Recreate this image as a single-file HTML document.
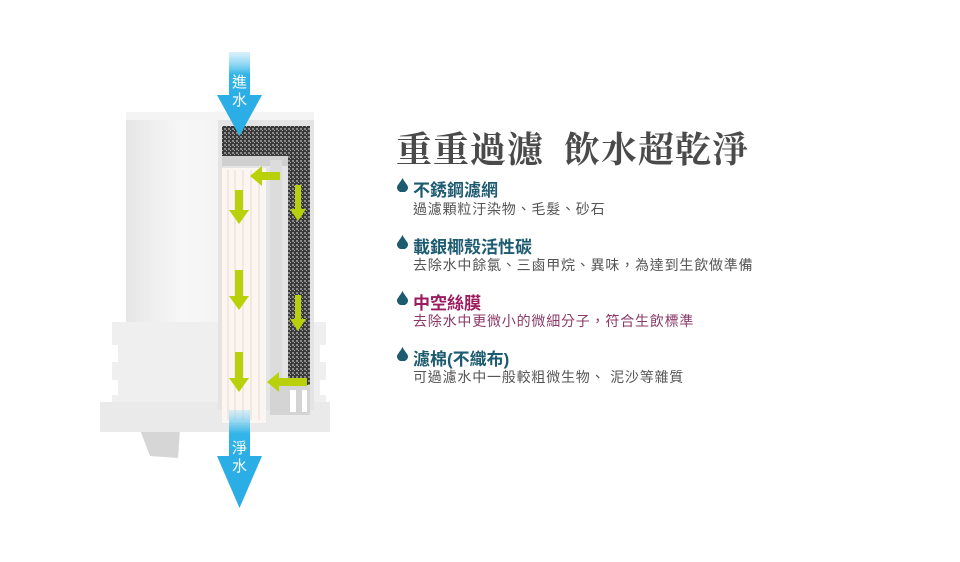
<!DOCTYPE html>
<html><head><meta charset="utf-8"><style>
body{margin:0;width:960px;height:562px;background:#fff;position:relative;overflow:hidden;font-family:"Liberation Sans","Noto Sans CJK TC",sans-serif}
.t{position:absolute;white-space:nowrap}
.title{left:396px;top:122px;font-size:36px;font-weight:bold;color:#4a4a4a;font-family:"Liberation Serif","Noto Serif CJK SC",serif;letter-spacing:1px}
.h{font-size:17px;font-weight:bold;color:#1d5b70;left:413px}
.d{font-size:14px;color:#555;left:413px;letter-spacing:.8px}
.drop{position:absolute;left:397px;width:11px;height:14px}
</style></head><body>
<svg width="960" height="562" style="position:absolute;left:0;top:0">
<defs>
<linearGradient id="cyl" x1="0" x2="1"><stop offset="0" stop-color="#e6e6e6"/><stop offset=".3" stop-color="#f7f7f7"/><stop offset="1" stop-color="#ececec"/></linearGradient>
<pattern id="carb" width="4" height="4" patternUnits="userSpaceOnUse"><rect width="4" height="4" fill="#3a3a3a"/><rect width="2" height="2" fill="#8a8a8a"/><rect x="2" y="2" width="1" height="1" fill="#aaa"/></pattern>
<linearGradient id="blue" x1="0" y1="0" x2="0" y2="1"><stop offset="0" stop-color="#9fdcf5" stop-opacity=".4"/><stop offset=".5" stop-color="#33b5e8"/><stop offset="1" stop-color="#2aaee5"/></linearGradient>
</defs>
<path d="M140 430 L180 430 L178 458 L150 456 Z" fill="#d6d6d6"/>
<rect x="100" y="402" width="230" height="30" fill="#eaeaea"/>
<path d="M112 322 H326 V345 H320 V362 H326 V380 H320 V395 H326 V402 H112 V395 H118 V380 H112 V362 H118 V345 H112Z" fill="#efefef"/>
<rect x="126" y="112" width="188" height="210" fill="url(#cyl)"/>
<rect x="126" y="112" width="188" height="8" fill="#f4f4f4"/>
<rect x="218" y="120" width="96" height="290" fill="#e4e4e4"/>
<rect x="222" y="126" width="88" height="30" fill="url(#carb)"/>
<rect x="288" y="150" width="22" height="235" fill="url(#carb)"/>
<rect x="222" y="156" width="66" height="10" fill="#d0d0d0"/>
<rect x="270" y="160" width="12" height="222" fill="#dcdcdc"/>
<rect x="222" y="168" width="44" height="255" fill="#fbf6f2"/>
<g stroke="#ecd8cf" stroke-width="1"><line x1="228" y1="170" x2="228" y2="420"/><line x1="235" y1="170" x2="235" y2="420"/><line x1="243" y1="170" x2="243" y2="420"/><line x1="251" y1="170" x2="251" y2="420"/><line x1="259" y1="170" x2="259" y2="420"/></g>
<rect x="270" y="385" width="40" height="30" fill="#d4d4d4"/>
<rect x="290" y="390" width="6" height="22" fill="#fff"/><rect x="302" y="390" width="5" height="22" fill="#fff"/>
<g fill="#b9d10a">
<path d="M235 190h8v20h6l-10 14-10-14h6z"/>
<path d="M235 270h8v26h6l-10 14-10-14h6z"/>
<path d="M235 352h8v26h6l-10 14-10-14h6z"/>
<path d="M295 185h6v24h5l-8 12-8-12h5z"/>
<path d="M295 295h6v24h5l-8 12-8-12h5z"/>
<path d="M280 172v8h-18v6l-12-10 12-10v6z"/>
<path d="M307 378v8h-28v6l-12-10 12-10v6z"/>
</g>
<rect x="229" y="52" width="21" height="45" fill="url(#blue)"/>
<path d="M217 95H262L239.5 136Z" fill="#2aaee5"/>
<rect x="229" y="410" width="21" height="47" fill="url(#blue)"/>
<path d="M217 456H262L239.5 508Z" fill="#2aaee5"/>
</svg>
<div class="t" style="left:232px;top:74px;color:#fff;font-size:15px;line-height:18px;width:16px">進<br>水</div>
<div class="t" style="left:232px;top:440px;color:#fff;font-size:15px;line-height:18px;width:16px">淨<br>水</div>
<div class="t title">重重過濾&nbsp; 飲水超乾淨</div>
<svg class="drop" style="top:178px" viewBox="0 0 11 14"><path d="M5.5 0C3 5 0 7 0 9.5A5.5 5 0 0 0 11 9.5C11 7 8 5 5.5 0Z" fill="#1d5b70"/></svg>
<div class="t h" style="top:176px">不銹鋼濾網</div>
<div class="t d" style="top:199px">過濾顆粒汙染物、毛髮、砂石</div>
<svg class="drop" style="top:235px" viewBox="0 0 11 14"><path d="M5.5 0C3 5 0 7 0 9.5A5.5 5 0 0 0 11 9.5C11 7 8 5 5.5 0Z" fill="#1d5b70"/></svg>
<div class="t h" style="top:233px">載銀椰殼活性碳</div>
<div class="t d" style="top:255px">去除水中餘氯、三鹵甲烷、異味，為達到生飲做準備</div>
<svg class="drop" style="top:291px" viewBox="0 0 11 14"><path d="M5.5 0C3 5 0 7 0 9.5A5.5 5 0 0 0 11 9.5C11 7 8 5 5.5 0Z" fill="#1d5b70"/></svg>
<div class="t h" style="top:289px;color:#9b1b5e">中空絲膜</div>
<div class="t d" style="top:311px;color:#8b3a68">去除水中更微小的微細分子，符合生飲標準</div>
<svg class="drop" style="top:347px" viewBox="0 0 11 14"><path d="M5.5 0C3 5 0 7 0 9.5A5.5 5 0 0 0 11 9.5C11 7 8 5 5.5 0Z" fill="#1d5b70"/></svg>
<div class="t h" style="top:345px">濾棉(不織布)</div>
<div class="t d" style="top:367px">可過濾水中一般較粗微生物、 泥沙等雜質</div>
</body></html>
